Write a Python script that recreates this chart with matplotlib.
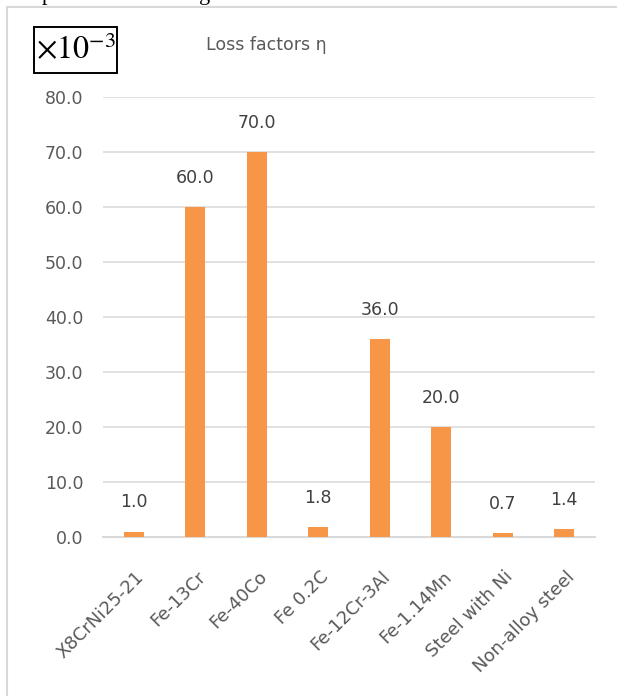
import matplotlib
matplotlib.use('Agg')
import matplotlib.pyplot as plt
import matplotlib.transforms as mtransforms
from matplotlib.lines import Line2D
from matplotlib.patches import Rectangle
import numpy as np

plt.rcParams['mathtext.fontset'] = 'stix'

materials = ['X8CrNi25-21', 'Fe-13Cr', 'Fe-40Co', 'Fe 0.2C', 'Fe-12Cr-3Al',
             'Fe-1.14Mn', 'Steel with Ni', 'Non-alloy steel']
loss_factors = [1.0, 60.0, 70.0, 1.8, 36.0, 20.0, 0.7, 1.4]
y_ticks = [0, 10, 20, 30, 40, 50, 60, 70, 80]

C_BAR = '#F79646'
C_GRID = '#D9D9D9'
C_TICK = '#595959'
C_LABEL = '#404040'

W, H = 617, 696
fig = plt.figure(figsize=(W / 100, H / 100), dpi=100)
fig.patch.set_facecolor('white')

# outer chart frame (top and left edges visible)
fig.add_artist(Line2D([7/W, 7/W], [0, 1 - 7/H], transform=fig.transFigure,
                      color=C_GRID, lw=1.5))
fig.add_artist(Line2D([7/W, 1], [1 - 7/H, 1 - 7/H], transform=fig.transFigure,
                      color=C_GRID, lw=1.5))

# descenders of the caption line above the chart
fig.text(42/W, 1.0, 'p', fontsize=16, family='Liberation Serif', va='baseline')
fig.text(199/W, 1.0, 'g', fontsize=16, family='Liberation Serif', va='baseline')

ax = fig.add_axes([103/W, 1 - 537/H, 492/W, 440/H])
x = np.arange(len(materials))
ax.bar(x, loss_factors, width=0.32, color=C_BAR, zorder=3)

for xi, v in zip(x, loss_factors):
    ax.annotate(f'{v:.1f}', (xi, v), xytext=(0, 21), textcoords='offset points',
                ha='center', va='center', fontsize=12.5, color=C_LABEL)

ax.set_xlim(-0.5, len(materials) - 0.5)
ax.set_ylim(0, 80)
ax.set_yticks(y_ticks)
ax.set_yticklabels([f'{t:.1f}' for t in y_ticks], fontsize=12.5, color=C_TICK)
ax.yaxis.grid(True, color=C_GRID, lw=1.1, zorder=0)
ax.set_axisbelow(True)
ax.set_xticks(x)
ax.set_xticklabels(materials, rotation=45, ha='right', rotation_mode='anchor',
                   fontsize=13, color=C_TICK)
ax.tick_params(axis='both', length=0)
ax.tick_params(axis='y', pad=14)
ax.tick_params(axis='x', pad=22)
shift = mtransforms.ScaledTranslation(1/100, 0, fig.dpi_scale_trans)
for lbl in ax.get_xticklabels():
    lbl.set_transform(lbl.get_transform() + shift)

for side in ['top', 'right', 'left']:
    ax.spines[side].set_visible(False)
ax.spines['bottom'].set_color(C_GRID)
ax.spines['bottom'].set_linewidth(1.5)

fig.text(266/W, 1 - 45/H, 'Loss factors η', ha='center', va='center',
         fontsize=12.5, color=C_TICK)

# scale factor box
fig.add_artist(Rectangle((34/W, 1 - 73/H), 83/W, 46/H, transform=fig.transFigure,
                         facecolor='white', edgecolor='black', lw=1.4))
fig.text(75.5/W, 1 - 51/H, r'$\times10^{-3}$', ha='center', va='center',
         fontsize=23, color='black')

fig.savefig('out.png', dpi=100, facecolor='white')
